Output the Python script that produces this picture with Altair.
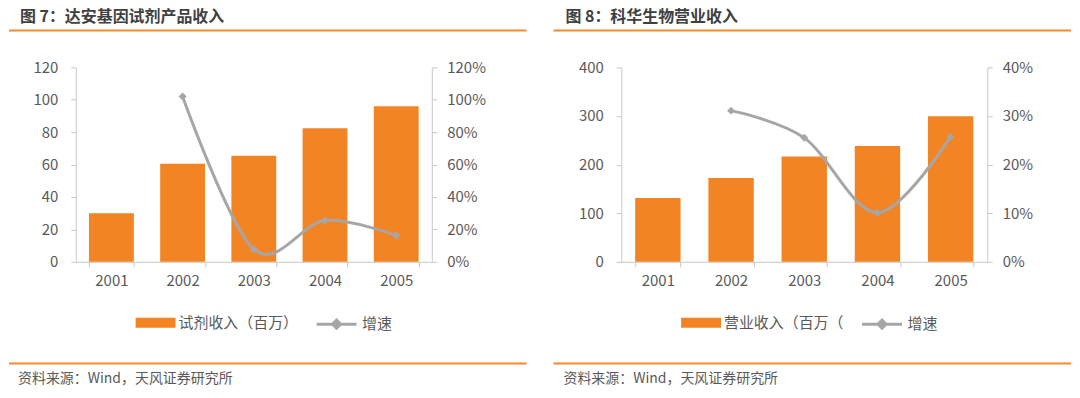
import altair as alt
import pandas as pd

years = ["2001", "2002", "2003", "2004", "2005"]

left_revenue = [30.0, 60.5, 65.5, 82.5, 96.0]
left_growth = [None, 1.02, 0.078, 0.255, 0.163]
right_revenue = [131.5, 172.5, 216.5, 238.5, 299.5]
right_growth = [None, 0.311, 0.255, 0.101, 0.257]

left_title = "图 7：达安基因试剂产品收入"
right_title = "图 8：科华生物营业收入"
left_bar_name = "试剂收入（百万）"
right_bar_name = "营业收入（百万（"
line_name = "增速"
source_text = "资料来源：Wind，天风证券研究所"

left_rev_ticks = [0, 20, 40, 60, 80, 100, 120]
left_growth_ticks = [0, 0.2, 0.4, 0.6, 0.8, 1.0, 1.2]
right_rev_ticks = [0, 100, 200, 300, 400]
right_growth_ticks = [0, 0.1, 0.2, 0.3, 0.4]

ORANGE = "#F28424"
RULE_ORANGE = "#F7892B"
GRAY = "#A6A6A6"
AXIS_GRAY = "#C8C8C8"
TEXT_GRAY = "#595959"
TITLE_GRAY = "#404040"
FONT = "Noto Sans CJK SC"

H = 195


def panel(title, rev, growth, bar_name, rev_ticks, growth_ticks, width,
          rule_x1, rule_x2, pad_inner):
    df = pd.DataFrame({"year": years, "rev": rev, "growth": growth,
                       "bar": bar_name, "line": line_name})
    xenc = alt.X(
        "year:O",
        scale=alt.Scale(paddingInner=pad_inner, paddingOuter=pad_inner / 2),
        axis=alt.Axis(title=None, labelAngle=0, tickBand="extent",
                      labelPadding=7),
    )
    bars = alt.Chart(df).mark_bar().encode(
        x=xenc,
        y=alt.Y("rev:Q",
                scale=alt.Scale(domain=[rev_ticks[0], rev_ticks[-1]], nice=False),
                axis=alt.Axis(title=None, values=rev_ticks, format="d",
                              labelPadding=13)),
        fill=alt.Fill("bar:N", scale=alt.Scale(range=[ORANGE]),
                      legend=alt.Legend(
                          title=None, orient="none", legendX=60, legendY=236,
                          padding=0, symbolType="M-1,-0.25H1V0.25H-1Z",
                          symbolSize=1600, symbolStrokeWidth=0,
                          labelOffset=3, labelFontSize=15,
                          labelColor=TEXT_GRAY, labelFont=FONT)),
    )
    gdf = df.dropna(subset=["growth"])
    yg = alt.Y("growth:Q",
               scale=alt.Scale(domain=[growth_ticks[0], growth_ticks[-1]], nice=False),
               axis=alt.Axis(title=None, orient="right", values=growth_ticks,
                             format=".0%", labelPadding=10))
    line = alt.Chart(gdf).mark_line(interpolate="cardinal", strokeWidth=3).encode(
        x=alt.X("year:O"),
        y=yg,
        stroke=alt.Stroke("line:N", scale=alt.Scale(range=[GRAY]),
                          legend=alt.Legend(
                              title=None, orient="none", legendX=240, legendY=236,
                              padding=0,
                              symbolType="M-1,0H1M-0.2,0L0,-0.2L0.2,0L0,0.2Z",
                              symbolSize=1600, symbolStrokeWidth=3,
                              symbolFillColor=GRAY,
                              labelOffset=4, labelFontSize=15,
                              labelColor=TEXT_GRAY, labelFont=FONT)),
    )
    pts = alt.Chart(gdf).mark_point(shape="diamond", filled=True, size=64,
                                     color=GRAY, opacity=1).encode(
        x=alt.X("year:O"), y=yg)
    growth_layer = alt.layer(line, pts)

    one = pd.DataFrame({"t": [title]})
    title_mark = alt.Chart(one).mark_text(
        align="left", baseline="middle", fontSize=16, fontWeight="bold",
        font=FONT, color=TITLE_GRAY).encode(
        text="t:N", x=alt.value(-56), y=alt.value(-50))
    top_rule = alt.Chart(one).mark_rule(color=RULE_ORANGE, strokeWidth=2).encode(
        x=alt.value(rule_x1), x2=alt.value(rule_x2), y=alt.value(-37))
    bottom_rule = alt.Chart(one).mark_rule(color=RULE_ORANGE, strokeWidth=2).encode(
        x=alt.value(rule_x1), x2=alt.value(rule_x2), y=alt.value(297))
    src = pd.DataFrame({"t": [source_text]})
    source_mark = alt.Chart(src).mark_text(
        align="left", baseline="middle", fontSize=14, font=FONT,
        color=TEXT_GRAY).encode(
        text="t:N", x=alt.value(-58), y=alt.value(313))

    return alt.layer(bars, growth_layer, title_mark, top_rule, bottom_rule,
                     source_mark).resolve_scale(y="independent").properties(
        width=width, height=H)


left = panel(left_title, left_revenue, left_growth, left_bar_name,
             left_rev_ticks, left_growth_ticks, 357, -67, 452, 0.37)
right = panel(right_title, right_revenue, right_growth, right_bar_name,
              right_rev_ticks, right_growth_ticks, 367, -68, 451, 0.38)

chart = alt.hconcat(left, right, spacing=25).resolve_scale(
    fill="independent", stroke="independent").resolve_legend(
    fill="independent", stroke="independent").properties(
    padding={"top": 1, "left": 0, "right": 0, "bottom": 0},
    background="white").configure_view(stroke=None).configure_axis(
    grid=False, domainColor=AXIS_GRAY, tickColor=AXIS_GRAY, tickSize=5,
    labelColor=TEXT_GRAY, labelFont=FONT, labelFontSize=15,
    domainWidth=1, tickWidth=1)

chart.save("out.html", embed_options={"renderer": "svg", "actions": False})
